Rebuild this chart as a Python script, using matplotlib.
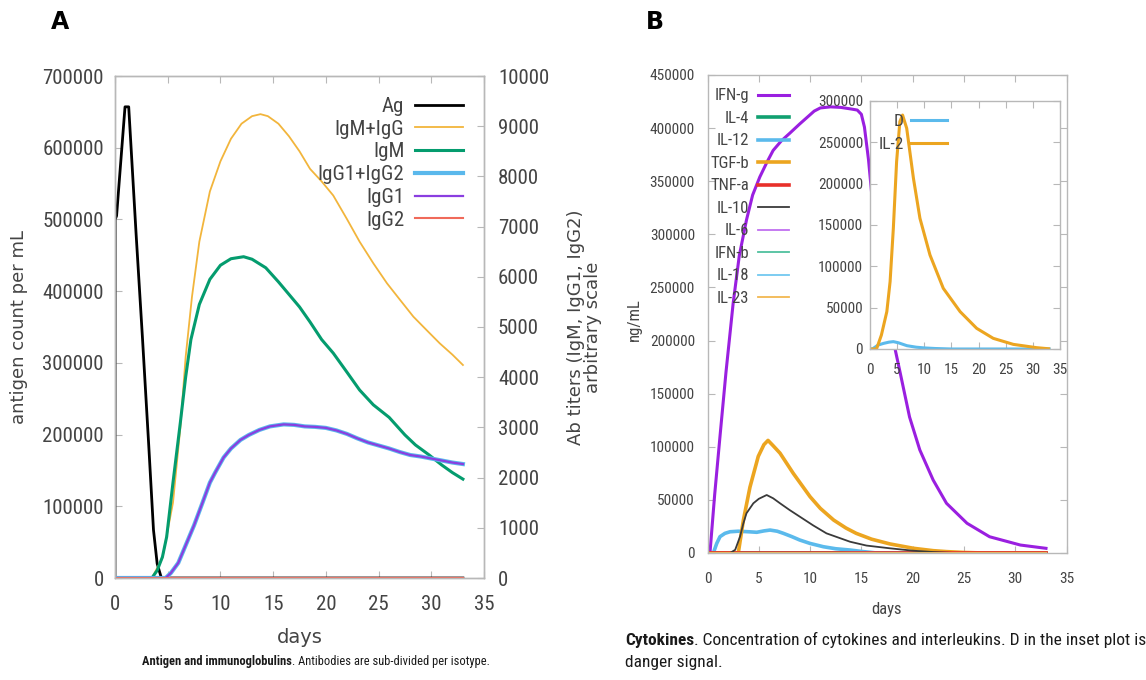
import matplotlib
matplotlib.use("Agg")
import matplotlib.pyplot as plt
from matplotlib import font_manager as fm

# ---------------- Panel A data ----------------
ag_t = [0, 0.02, 0.15, 0.95, 1.3, 2.0, 2.6, 3.2, 3.65, 4.0, 4.4, 33]
ag_v = [0, 500000, 505000, 657000, 657000, 480000, 336000, 185000, 67000, 20000, 0, 0]

igmg_t = [0, 3.5, 4.5, 5.5, 6.2, 6.7, 7.3, 8.0, 9.0, 10.0, 11.0, 12.0, 13.0, 13.8, 14.5,
          15.5, 16.5, 17.5, 18.5, 19.6, 20.7, 22.0, 23.2, 24.5, 25.8, 27.0, 28.3, 29.5,
          30.8, 32.0, 33.0]
igmg_v = [0, 0, 400, 1500, 3000, 4400, 5600, 6700, 7700, 8300, 8750, 9050, 9200, 9240, 9200,
          9050, 8800, 8500, 8150, 7900, 7620, 7150, 6700, 6270, 5870, 5550, 5206, 4950,
          4675, 4450, 4243]

igm_t = [0, 3.5, 4.0, 4.5, 4.9, 5.5, 6.2, 6.7, 7.2, 8.0, 9.0, 10.0, 11.0, 12.2, 13.0, 14.3,
         15.5, 16.5, 17.5, 18.5, 19.6, 20.7, 22.0, 23.2, 24.5, 26.0, 27.5, 28.5, 29.8,
         31.0, 32.0, 33.0]
igm_v = [0, 0, 150, 420, 820, 1900, 3100, 4000, 4750, 5450, 5950, 6230, 6360, 6400, 6350,
         6180, 5900, 5650, 5400, 5100, 4750, 4480, 4100, 3745, 3450, 3200, 2850, 2650,
         2450, 2250, 2100, 1970]

igg_t = [0, 4.8, 5.3, 6.0, 6.8, 7.5, 8.3, 9.0, 9.5, 10.3, 11.0, 11.9, 12.7, 13.7, 14.7,
         16.0, 17.0, 18.0, 19.0, 20.0, 21.0, 22.0, 23.0, 24.0, 25.0, 26.0, 27.0, 28.0,
         29.0, 30.0, 31.0, 32.0, 33.0]
igg12_v = [0, 0, 100, 300, 700, 1050, 1500, 1900, 2100, 2400, 2580, 2750, 2850, 2950, 3020,
           3060, 3050, 3020, 3010, 2990, 2940, 2870, 2780, 2700, 2640, 2580, 2510, 2450,
           2420, 2380, 2340, 2300, 2270]
igg1_v = [0, 0, 100, 300, 700, 1050, 1500, 1900, 2100, 2400, 2580, 2750, 2850, 2950, 3020,
          3060, 3050, 3020, 3010, 2990, 2940, 2870, 2780, 2700, 2640, 2580, 2510, 2450,
          2420, 2380, 2340, 2300, 2270]
igg2_t = [0, 33]
igg2_v = [0, 0]

# ---------------- Panel B data ----------------
ifng_t = [0, 0.24, 0.7, 1.22, 1.8, 2.5, 3.1, 3.8, 4.4, 5.1, 5.8, 6.4, 7.2, 8.0, 9.0, 9.7,
          10.4, 11.0, 12.0, 13.0, 14.0, 14.6, 15.0, 15.3, 15.7, 16.0, 16.7, 17.2, 17.7,
          18.0, 18.8, 19.7, 20.7, 22.0, 23.3, 25.3, 27.5, 30.5, 33.0]
ifng_v = [0, 0, 55000, 110000, 170000, 235000, 280000, 313500, 337000, 354000, 368000,
          379000, 388000, 395000, 404000, 410000, 416000, 419000, 420000, 419500, 418000,
          417000, 413000, 401000, 370000, 339000, 280000, 248000, 219000, 205000, 169000,
          128000, 97000, 68700, 46800, 28000, 15300, 7500, 4400]

tgfb_t = [0, 3.0, 3.5, 4.14, 4.95, 5.5, 5.9, 6.4, 7.07, 8.36, 10.0, 11.0, 12.3, 13.5, 14.5,
          16.0, 17.8, 20.1, 22.0, 23.3, 25.0, 27.0, 33.0]
tgfb_v = [0, 0, 31000, 62000, 91000, 102000, 106000, 101000, 94000, 75000, 53000, 42000,
          31000, 23500, 18500, 13000, 8500, 4400, 2200, 1300, 500, 0, 0]

il10_t = [0, 2.2, 2.7, 3.17, 3.5, 3.8, 4.47, 5.0, 5.77, 6.4, 7.07, 8.0, 9.0, 10.3, 11.6,
          13.9, 15.5, 17.8, 20.0, 22.0, 24.0, 33.0]
il10_v = [0, 0, 3000, 15400, 28000, 37400, 46800, 51000, 54600, 51500, 46800, 40500, 34200,
          26000, 18500, 10600, 7000, 4400, 2200, 900, 0, 0]

il12_t = [0, 0.57, 0.9, 1.22, 1.7, 2.2, 3.0, 4.0, 4.8, 5.5, 6.1, 6.8, 7.4, 8.2, 9.0, 10.0,
          11.3, 12.5, 13.9, 15.0, 16.5, 33.0]
il12_v = [0, 0, 9000, 15400, 18500, 20000, 20500, 20000, 19500, 20800, 21600, 20500, 18500,
          15500, 12200, 9000, 5900, 4000, 2800, 1500, 0, 0]

zero_t = [0, 33.0]
il4_v = [0, 0]
tnfa_v = [0, 0]
il6_v = [0, 0]
ifnb_v = [0, 0]
il18_v = [0, 0]
il23_v = [0, 0]

# inset
il2_t = [0, 1.2, 2.1, 3.1, 3.7, 4.3, 4.9, 5.5, 6.0, 6.76, 8.0, 9.2, 11.05, 13.5, 16.6,
         19.65, 22.7, 26.4, 30.7, 32.9]
il2_v = [0, 0, 16900, 45200, 81400, 146000, 226600, 275000, 283000, 267000, 206500,
         158100, 113700, 73400, 45200, 25000, 12900, 5600, 1600, 300]
d_t = [0, 0.5, 1.5, 2.5, 3.5, 4.3, 5.2, 6.8, 8.5, 10.0, 12.0, 15.0, 33.0]
d_v = [0, 300, 4800, 6800, 8300, 8900, 7600, 4000, 2200, 1300, 600, 0, 0]

xticks = [0, 5, 10, 15, 20, 25, 30, 35]
a_left_ticks = [0, 100000, 200000, 300000, 400000, 500000, 600000, 700000]
a_right_ticks = [0, 1000, 2000, 3000, 4000, 5000, 6000, 7000, 8000, 9000, 10000]
b_ticks = [0, 50000, 100000, 150000, 200000, 250000, 300000, 350000, 400000, 450000]
inset_ticks = [0, 50000, 100000, 150000, 200000, 250000, 300000]

# ---------------- font selection (narrow font if one is installed) ----------------
_entries = fm.fontManager.ttflist
_names = {f.name for f in _entries}
NARROW_KW = None
for cand in ['Liberation Sans Narrow', 'Arial Narrow', 'Nimbus Sans Narrow',
             'Roboto Condensed', 'Open Sans Condensed', 'Noto Sans Condensed',
             'DejaVu Sans Condensed', 'Noto Sans Display Condensed']:
    if cand in _names:
        NARROW_KW = dict(family=cand)
        break
if NARROW_KW is None:
    for fam in ['DejaVu Sans', 'Noto Sans', 'Roboto', 'Open Sans', 'Inter']:
        cond = [f for f in _entries if f.name == fam and
                str(f.stretch) in ('condensed', 'semi-condensed', 'extra-condensed',
                                   '500', '375', '625', '437')]
        if cond:
            NARROW_KW = dict(family=fam, stretch=cond[0].stretch)
            break
SCALE = 1.0
if NARROW_KW is None:
    NARROW_KW = dict(family='Liberation Sans')
    SCALE = 0.84


def nfp(size, weight='normal'):
    return fm.FontProperties(size=size * SCALE, weight=weight, **NARROW_KW)


REG = 'DejaVu Sans'
TXT = '#444444'
FRAME = '#b8b8b8'

fig = plt.figure(figsize=(11.46, 6.80), dpi=100)
W, H = 1146.0, 680.0


def style_axes(ax, size):
    for s in ax.spines.values():
        s.set_color(FRAME)
        s.set_linewidth(1.0)
    ax.tick_params(direction='in', length=5, color=FRAME, labelcolor=TXT)
    for lab in ax.get_xticklabels() + ax.get_yticklabels():
        lab.set_fontproperties(nfp(size))


def caption(parts, x_left, x_right, y, size):
    """Bold/regular runs on one line, font size fitted to the width x_left..x_right."""
    texts = []
    for s, w in parts:
        texts.append(fig.text(0, y, s, fontproperties=nfp(size, w), va='center',
                              ha='left', color='#1a1a1a'))
    fig.canvas.draw()
    r = fig.canvas.get_renderer()
    total = sum(t.get_window_extent(r).width for t in texts)
    new = size * (x_right - x_left) / total
    for t, (s, w) in zip(texts, parts):
        t.set_fontproperties(nfp(new, w))
    fig.canvas.draw()
    x = x_left
    for t in texts:
        t.set_x(x / W)
        x += t.get_window_extent(r).width
    return new


# ---------------- Panel A ----------------
axA = fig.add_axes([115 / W, 1 - 578 / H, 369 / W, 502 / H])
axA2 = axA.twinx()
lAg, = axA.plot(ag_t, ag_v, color='black', lw=2.0, label='Ag')
lMG, = axA2.plot(igmg_t, igmg_v, color='#f2b53c', lw=1.3, label='IgM+IgG')
lM, = axA2.plot(igm_t, igm_v, color='#049c6e', lw=2.2, label='IgM')
lG12, = axA2.plot(igg_t, igg12_v, color='#5ab8ec', lw=3.0, label='IgG1+IgG2')
lG1, = axA2.plot(igg_t, igg1_v, color='#8a3ee0', lw=1.6, label='IgG1')
lG2, = axA2.plot(igg2_t, igg2_v, color='#f06a5a', lw=1.5, label='IgG2')

axA.set_xlim(0, 35)
axA.set_ylim(0, 700000)
axA2.set_ylim(0, 10000)
axA.set_xticks(xticks)
axA.set_yticks(a_left_ticks)
axA2.set_yticks(a_right_ticks)
axA.tick_params(top=True)
style_axes(axA, 15)
style_axes(axA2, 15)
axA.tick_params(axis='x', pad=12)
axA.tick_params(axis='y', pad=8)
axA2.tick_params(axis='y', pad=10)
axA.set_ylabel('antigen count per mL', family=REG, fontsize=13, color=TXT)
axA.yaxis.set_label_coords((28 - 115) / 369, 0.5)
axA2.set_ylabel('Ab titers (IgM, IgG1, IgG2)\narbitrary scale', family=REG,
                fontsize=13, color=TXT, linespacing=0.95)
axA2.yaxis.set_label_coords((567 - 115) / 369, 0.5)
axA.set_xlabel('days', family=REG, fontsize=14, color=TXT)
axA.xaxis.set_label_coords(0.5, -(628 - 578) / 502)

legA = axA2.legend(handles=[lAg, lMG, lM, lG12, lG1, lG2], loc='upper right',
                   bbox_to_anchor=((471 - 115) / 369, 0.975), frameon=False,
                   markerfirst=False, handlelength=2.3, handletextpad=0.5,
                   labelspacing=0.18, borderaxespad=0, prop=nfp(15))
for t in legA.get_texts():
    t.set_color(TXT)

fig.text(60 / W, 1 - 22 / H, 'A', fontsize=17, fontweight='bold', family='DejaVu Sans',
         ha='center', va='center')

caption([('Antigen and immunoglobulins', 'bold'),
         ('. Antibodies are sub-divided per isotype.', 'normal')],
        142, 490, 1 - 661 / H, 9.0)

# ---------------- Panel B ----------------
axB = fig.add_axes([707.5 / W, 1 - 553 / H, 359 / W, 478 / H])
b_lines = []
b_lines.append(axB.plot(ifng_t, ifng_v, color='#9a1fe0', lw=2.2, label='IFN-g')[0])
b_lines.append(axB.plot(zero_t, il4_v, color='#10a070', lw=2.6, label='IL-4')[0])
b_lines.append(axB.plot(il12_t, il12_v, color='#5bbaec', lw=2.6, label='IL-12')[0])
b_lines.append(axB.plot(tgfb_t, tgfb_v, color='#eca520', lw=2.6, label='TGF-b')[0])
b_lines.append(axB.plot(zero_t, tnfa_v, color='#e8302a', lw=2.6, label='TNF-a')[0])
b_lines.append(axB.plot(il10_t, il10_v, color='#3a3a3a', lw=1.3, label='IL-10')[0])
b_lines.append(axB.plot(zero_t, il6_v, color='#c070f0', lw=1.3, label='IL-6')[0])
b_lines.append(axB.plot(zero_t, ifnb_v, color='#4fc09e', lw=1.3, label='IFN-b')[0])
b_lines.append(axB.plot(zero_t, il18_v, color='#72c8f0', lw=1.3, label='IL-18')[0])
b_lines.append(axB.plot(zero_t, il23_v, color='#f2b850', lw=1.3, label='IL-23')[0])
axB.set_xlim(0, 35)
axB.set_ylim(0, 450000)
axB.set_xticks(xticks)
axB.set_yticks(b_ticks)
axB.tick_params(top=True, right=True)
style_axes(axB, 11)
axB.tick_params(axis='x', pad=14)
axB.tick_params(axis='y', pad=9)
axB.set_xlabel('days', fontproperties=nfp(12), color=TXT)
axB.xaxis.set_label_coords(0.5, -(602 - 553) / 478)
axB.set_ylabel('ng/mL', fontproperties=nfp(12), color=TXT)
axB.yaxis.set_label_coords((642 - 707.5) / 359, (553 - 320) / 478)
legB = axB.legend(handles=b_lines, loc='upper right',
                  bbox_to_anchor=((796 - 707.5) / 359, 0.986),
                  frameon=False, markerfirst=False, handlelength=1.9,
                  handletextpad=0.5, labelspacing=0.45, borderaxespad=0,
                  prop=nfp(12))
for t in legB.get_texts():
    t.set_color(TXT)

fig.text(655 / W, 1 - 22 / H, 'B', fontsize=17, fontweight='bold', family='DejaVu Sans',
         ha='center', va='center')

# inset
axI = fig.add_axes([870 / W, 1 - 349 / H, 190 / W, 248 / H])
lD, = axI.plot(d_t, d_v, color='#5bbaec', lw=2.2, label='D')
lIL2, = axI.plot(il2_t, il2_v, color='#eca520', lw=2.2, label='IL-2')
axI.set_xlim(0, 35)
axI.set_ylim(0, 300000)
axI.set_xticks(xticks)
axI.set_yticks(inset_ticks)
axI.tick_params(top=True, right=True)
style_axes(axI, 11)
axI.tick_params(axis='x', pad=10)
axI.tick_params(axis='y', pad=5)
legI = axI.legend(handles=[lD, lIL2], loc='upper right',
                  bbox_to_anchor=((954 - 870) / 190, 0.975),
                  frameon=False, markerfirst=False, handlelength=2.1,
                  handletextpad=0.4, labelspacing=0.45, borderaxespad=0,
                  prop=nfp(12.5))
for t in legI.get_texts():
    t.set_color(TXT)

# caption B
sizeB = caption([('Cytokines', 'bold'),
                 ('. Concentration of cytokines and interleukins. D in the inset plot is',
                  'normal')], 625, 1140, 1 - 640 / H, 13.0)
fig.text(625 / W, 1 - 663 / H, 'danger signal.', fontproperties=nfp(sizeB),
         va='center', ha='left', color='#1a1a1a')

fig.savefig('out.png', dpi=100)
